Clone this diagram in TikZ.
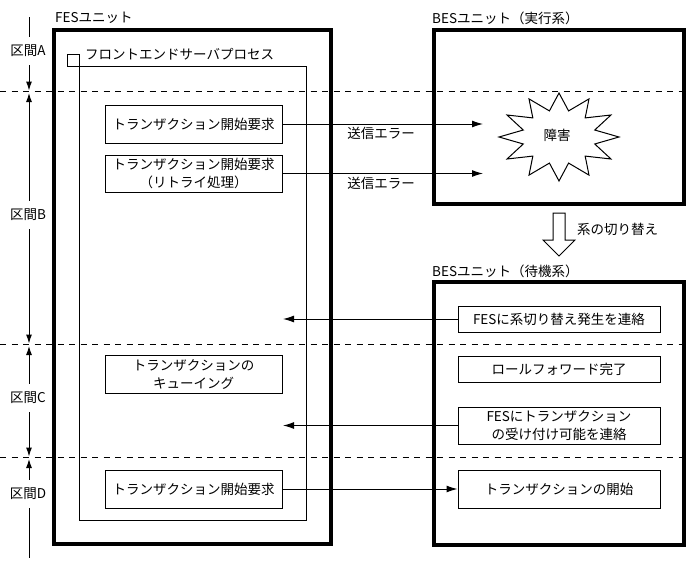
\documentclass[tikz,border=0pt]{standalone}
\usepackage{fontspec}
\setmainfont{Noto Sans CJK JP}
\usetikzlibrary{arrows.meta}
\begin{document}
\begin{tikzpicture}[x=1pt,y=-1pt,
  every node/.style={font=\fontsize{13.5}{18.5}\selectfont, inner sep=0pt},
  unitbox/.style={draw, line width=4pt},
  thinline/.style={line width=1pt},
  procbox/.style={draw, line width=1pt, minimum width=177pt, align=center},
  besbox/.style={draw, line width=1pt, minimum width=202pt, align=center},
  msg/.style={line width=1pt, -{Latex[length=11pt,width=7pt]}},
  tlarrow/.style={line width=1pt, -{Latex[length=9pt,width=6pt]}},
  divider/.style={line width=1pt, dash pattern=on 6pt off 5.5pt},
  seclabel/.style={minimum height=28pt},
]
\useasboundingbox (0,0) rectangle (690,562);

% unit boxes
\draw[unitbox] (54,30) rectangle (331,544);
\draw[unitbox] (434,30) rectangle (684,204);
\draw[unitbox] (434,282) rectangle (684,545);
\node[anchor=west] (fesl) at (55,18) {FESユニット};
\node[anchor=west] (bes1l) at (432,18) {BESユニット（実行系）};
\node[anchor=west] (bes2l) at (432,271) {BESユニット（待機系）};

% process box
\draw[thinline] (79,66) rectangle (306,520);
\draw[thinline] (67,54) rectangle (79,66);
\node[anchor=west] (procl) at (85,54) {フロントエンドサーバプロセス};

% FES boxes
\node[procbox, minimum height=38pt] (b1) at (193.5,124) {トランザクション開始要求};
\node[procbox, minimum height=37pt] (b2) at (193.5,173.5) {トランザクション開始要求\\（リトライ処理）};
\node[procbox, minimum height=38pt] (b3) at (193.5,374.5) {トランザクションの\\キューイング};
\node[procbox, minimum height=38pt] (b4) at (193.5,489) {トランザクション開始要求};

% BES boxes
\node[besbox, minimum height=26pt] (n1) at (559,319) {FESに系切り替え発生を連絡};
\node[besbox, minimum height=26pt] (n2) at (559,369) {ロールフォワード完了};
\node[besbox, minimum height=37pt] (n3) at (559,425.5) {FESにトランザクション\\の受け付け可能を連絡};
\node[besbox, minimum height=38pt] (n4) at (559,489) {トランザクションの開始};

% starburst
\draw[thinline] (619,137)
  \foreach \i in {1,...,23} { -- ({559+(isodd(\i)?37:60)*cos(15*\i)}, {137+(isodd(\i)?27:44)*sin(15*\i)}) } -- cycle;
\node (fail) at (557,135) {障害};

% messages
\coordinate (e1) at (483,124);
\coordinate (e2) at (483,173.5);
\coordinate (r1) at (283,319);
\coordinate (r2) at (283,425.5);
\draw[msg] (b1.east) -- (e1);
\draw[msg] (b2.east) -- (e2);
\node (err1) at (381,133) {送信エラー};
\node (err2) at (381,183) {送信エラー};
\draw[msg] (n1.west) -- (r1);
\draw[msg] (n3.west) -- (r2);
\draw[msg] (b4.east) -- (n4.west);

% switch-over arrow
\draw[thinline] (553,213) -- (565,213) -- (565,240) -- (575,240) -- (559,256) -- (543,240) -- (553,240) -- cycle;
\node[anchor=west] (swl) at (577,229) {系の切り替え};

% dividers
\draw[divider] (0,91.5) -- (690,91.5);
\draw[divider] (0,344.5) -- (690,344.5);
\draw[divider] (0,457.5) -- (690,457.5);

% timeline
\coordinate (t0) at (29,17);
\coordinate (t9) at (29,558);
\coordinate (a1) at (29,90.5);
\coordinate (a2) at (29,93);
\coordinate (a3) at (29,343.5);
\coordinate (a4) at (29,346);
\coordinate (a5) at (29,456.5);
\coordinate (a6) at (29,459);
\node[seclabel] (lA) at (28,51) {区間A};
\node[seclabel] (lB) at (28,215) {区間B};
\node[seclabel] (lC) at (28,398) {区間C};
\node[seclabel] (lD) at (28,494) {区間D};
\draw[thinline] (t0) -- (lA.north -| t0);
\draw[tlarrow] (lA.south -| t0) -- (a1);
\draw[tlarrow] (lB.north -| t0) -- (a2);
\draw[tlarrow] (lB.south -| t0) -- (a3);
\draw[tlarrow] (lC.north -| t0) -- (a4);
\draw[tlarrow] (lC.south -| t0) -- (a5);
\draw[tlarrow] (lD.north -| t0) -- (a6);
\draw[thinline] (lD.south -| t0) -- (t9);
\end{tikzpicture}
\end{document}
